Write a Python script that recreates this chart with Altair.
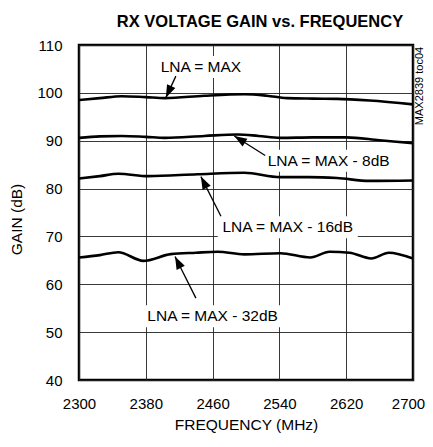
import math
import altair as alt
import pandas as pd

# ---- data ----
freq_max = [2300, 2325, 2351, 2380, 2403, 2450, 2498, 2525, 2549, 2580, 2609, 2648, 2700]
gain_max = [98.5, 98.9, 99.3, 99.1, 98.9, 99.4, 99.7, 99.4, 98.9, 98.8, 98.75, 98.4, 97.6]

freq_8 = [2300, 2325, 2351, 2380, 2403, 2450, 2490, 2515, 2541, 2580, 2620, 2660, 2700]
gain_8 = [90.6, 90.9, 91.0, 90.8, 90.6, 91.0, 91.3, 91.0, 90.6, 90.7, 90.7, 90.1, 89.5]

freq_16 = [2300, 2325, 2347, 2383, 2442, 2498, 2541, 2575, 2609, 2648, 2700]
gain_16 = [82.1, 82.6, 83.1, 82.6, 83.0, 83.3, 82.4, 82.4, 82.2, 81.6, 81.7]

freq_32 = [2300, 2325, 2347, 2377, 2410, 2440, 2466, 2498, 2541, 2577, 2600, 2624, 2650, 2671, 2700]
gain_32 = [65.6, 66.1, 66.7, 64.9, 66.3, 66.6, 66.8, 66.25, 66.5, 65.6, 66.8, 66.6, 65.4, 66.6, 65.4]

series_names = ["LNA = MAX", "LNA = MAX - 8dB", "LNA = MAX - 16dB", "LNA = MAX - 32dB"]

x_ticks = [2300, 2380, 2460, 2540, 2620, 2700]
y_ticks = [40, 50, 60, 70, 80, 90, 100, 110]

# annotations: label, text centre (freq, gain), leader start (freq, gain), arrow tip (freq, gain), text width px
ann_label = series_names
ann_text_f = [2446, 2599, 2550, 2460]
ann_text_g = [105.4, 85.8, 71.9, 53.3]
ann_start_f = [2416, 2523, 2470, 2440]
ann_start_g = [103.5, 86.9, 74.2, 57.1]
ann_tip_f = [2404, 2486, 2446, 2415]
ann_tip_g = [99.0, 91.0, 82.5, 65.8]
ann_width = [82, 124, 134, 131]

W, H = 334, 335
X0, X1 = 2300, 2700
Y0, Y1 = 40, 110

FONT = "Liberation Sans, Arial, Helvetica, sans-serif"


def to_px(f, g):
    return (f - X0) / (X1 - X0) * W, (Y1 - g) / (Y1 - Y0) * H


def from_px(x, y):
    return X0 + x / W * (X1 - X0), Y1 - y / H * (Y1 - Y0)


rows = []
for name, fs, gs in zip(series_names, [freq_max, freq_8, freq_16, freq_32],
                        [gain_max, gain_8, gain_16, gain_32]):
    for f, g in zip(fs, gs):
        rows.append({"series": name, "freq": f, "gain": g})
curves = pd.DataFrame(rows)

arows = []
for i, lab in enumerate(ann_label):
    sx, sy = to_px(ann_start_f[i], ann_start_g[i])
    tx, ty = to_px(ann_tip_f[i], ann_tip_g[i])
    ang = math.degrees(math.atan2(tx - sx, -(ty - sy))) % 360
    cx, cy = to_px(ann_text_f[i], ann_text_g[i])
    bx0, by0 = from_px(cx - ann_width[i] / 2 - 3, cy - 11)
    bx1, by1 = from_px(cx + ann_width[i] / 2 + 3, cy + 11)
    arows.append({
        "label": lab, "tf": ann_text_f[i], "tg": ann_text_g[i],
        "sf": ann_start_f[i], "sg": ann_start_g[i],
        "ef": ann_tip_f[i], "eg": ann_tip_g[i], "ang": ang,
        "bx0": bx0, "bx1": bx1, "by0": by0, "by1": by1,
    })
ann = pd.DataFrame(arows)

xscale = alt.Scale(domain=[X0, X1], nice=False, zero=False)
yscale = alt.Scale(domain=[Y0, Y1], nice=False, zero=False)

xaxis = alt.Axis(values=x_ticks, title="FREQUENCY (MHz)", grid=True, ticks=False, domain=False,
                 labelPadding=16, titlePadding=6, format="d", labelFlush=False,
                 labelOffset={"condition": {"test": "datum.value == 2700", "value": -5}, "value": 0})
yaxis = alt.Axis(values=y_ticks, title="GAIN (dB)", grid=True, ticks=False, domain=False,
                 labelPadding=17, titlePadding=12, format="d", titleY=174)

base_c = alt.Chart(curves)
lines = base_c.mark_line(color="black", strokeWidth=2.6, interpolate="monotone").encode(
    x=alt.X("freq:Q", scale=xscale, axis=xaxis),
    y=alt.Y("gain:Q", scale=yscale, axis=yaxis),
    detail="series:N",
)

base_a = alt.Chart(ann)
boxes = base_a.mark_rect(color="white").encode(
    x="bx0:Q", x2="bx1", y="by0:Q", y2="by1"
)
leaders = base_a.mark_rule(color="black", strokeWidth=1.3).encode(
    x="sf:Q", y="sg:Q", x2="ef", y2="eg"
)
heads = base_a.mark_point(
    shape="M0,0L-0.36,1L0.36,1Z", filled=True, color="black", opacity=1, size=640, strokeWidth=0
).encode(
    x="ef:Q", y="eg:Q", angle=alt.Angle("ang:Q", scale=None)
)
labels = base_a.mark_text(font=FONT, fontSize=15.5, color="black", baseline="middle", align="center").encode(
    x="tf:Q", y="tg:Q", text="label:N"
)
side = alt.Chart(pd.DataFrame({"t": ["MAX2839 toc04"]})).mark_text(
    font=FONT, fontSize=11, angle=270, color="black", baseline="middle", align="center"
).encode(x=alt.value(W + 7), y=alt.value(41), text="t:N")
title = alt.Chart(pd.DataFrame({"t": ["RX VOLTAGE GAIN vs. FREQUENCY"]})).mark_text(
    font=FONT, fontSize=16.5, fontWeight="bold", color="black", baseline="alphabetic", align="center"
).encode(x=alt.value(181), y=alt.value(-18), text="t:N")

chart = alt.layer(lines, boxes, leaders, heads, labels, side, title).properties(
    width=W, height=H,
    background="white",
    autosize=alt.AutoSizeParams(type="none"),
    padding={"left": 71, "top": 37, "right": 12, "bottom": 56},
).configure_view(stroke="black", strokeWidth=2.5).configure_axis(
    labelFont=FONT, labelFontSize=15, labelColor="black",
    titleFont=FONT, titleFontSize=15.5, titleFontWeight="normal", titleColor="black",
    gridColor="#222", gridWidth=0.9, gridOpacity=1,
)

chart.save("out.html", embed_options={"renderer": "svg", "actions": False})
